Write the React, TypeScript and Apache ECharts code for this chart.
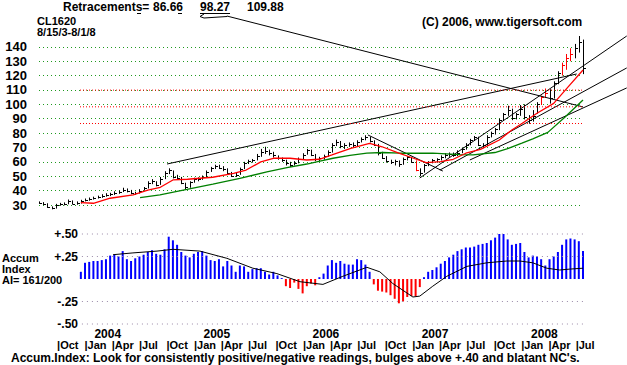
import React, { useEffect, useRef } from "react";
import * as echarts from "echarts";

// ---- data (weekly axis: weeks since 2003-08-15, one bar every 2 weeks) ----
const retracements = [86.66, 98.27, 109.88];
// [high, low, close]
const bars: [number, number, number][] = [
  [32.5, 30.8, 31.5], [32.0, 30.0, 31.0], [31.2, 28.0, 28.5], [29.0, 27.0, 27.8], [30.8, 27.5, 30.0],
  [31.5, 29.5, 30.5], [31.8, 29.8, 30.8], [33.8, 30.5, 33.0], [33.2, 30.5, 31.0], [32.5, 30.2, 31.5],
  [33.6, 31.0, 33.0], [34.5, 32.5, 33.5], [35.2, 33.0, 34.5], [35.8, 33.8, 35.0], [36.5, 34.5, 35.5],
  [37.5, 35.0, 36.5], [38.2, 35.8, 37.0], [38.5, 36.2, 37.5], [39.5, 37.0, 38.5], [40.0, 37.8, 39.0],
  [42.0, 39.0, 40.5], [41.5, 38.8, 40.0], [40.5, 37.5, 38.5], [39.2, 37.0, 38.0], [41.0, 38.0, 40.0],
  [42.5, 40.0, 41.5], [46.5, 41.5, 45.5], [48.0, 44.5, 46.5], [46.5, 43.0, 44.0], [49.5, 44.0, 48.0],
  [53.5, 48.0, 52.5], [55.5, 51.5, 54.5], [54.0, 48.5, 49.5], [51.0, 47.5, 49.0], [49.5, 44.5, 45.5],
  [45.5, 40.5, 42.5], [46.5, 42.0, 46.0], [49.0, 45.5, 48.0], [49.2, 46.5, 48.0], [50.5, 47.5, 49.5],
  [54.0, 49.5, 53.0], [56.5, 53.0, 55.5], [58.0, 55.0, 57.0], [58.0, 55.0, 56.0], [57.0, 53.5, 55.0],
  [55.5, 51.5, 52.5], [53.0, 49.5, 50.0], [52.5, 49.5, 51.0], [56.0, 51.0, 55.0], [60.0, 55.0, 59.0],
  [61.5, 58.5, 60.5], [62.0, 59.5, 61.0], [65.5, 61.0, 64.0], [69.0, 63.5, 67.0], [70.5, 65.5, 67.5],
  [68.5, 64.5, 66.0], [67.0, 63.0, 64.5], [64.5, 61.5, 62.5], [63.0, 60.0, 61.0], [61.5, 57.5, 59.5],
  [60.0, 56.5, 58.0], [60.5, 57.5, 59.5], [63.0, 59.0, 62.0], [66.0, 61.5, 65.0], [69.0, 65.0, 68.0],
  [68.5, 64.0, 65.0], [65.5, 60.5, 62.0], [63.5, 60.5, 62.5], [65.0, 61.5, 64.0], [68.0, 63.5, 67.0],
  [73.0, 66.5, 72.0], [75.5, 71.0, 74.0], [74.5, 69.5, 71.0], [73.0, 69.0, 72.0], [73.5, 70.5, 72.5],
  [73.5, 70.0, 71.5], [75.0, 70.5, 74.0], [77.0, 73.5, 76.0], [78.5, 75.0, 77.0], [77.5, 73.5, 74.5],
  [75.0, 71.0, 72.0], [72.5, 64.5, 66.0], [67.0, 62.0, 63.0], [64.0, 59.5, 60.5], [61.5, 58.5, 60.0],
  [61.5, 57.5, 60.5], [61.0, 56.5, 58.5], [63.0, 58.0, 62.0], [64.0, 61.0, 63.5], [63.5, 59.5, 60.0],
  [61.0, 53.5, 54.5], [55.5, 50.0, 52.0], [58.5, 52.5, 58.0], [60.5, 57.0, 60.0], [62.0, 59.0, 61.5],
  [62.5, 59.5, 62.0], [64.5, 61.0, 63.5], [66.0, 62.5, 64.5], [66.5, 63.5, 65.5], [66.5, 63.5, 65.0],
  [68.0, 64.0, 66.5], [70.0, 66.0, 69.0], [73.0, 68.5, 72.0], [76.0, 71.5, 75.0], [78.0, 74.5, 77.0],
  [77.5, 71.0, 72.0], [73.0, 69.5, 71.5], [78.5, 71.0, 77.5], [81.0, 77.0, 80.0], [83.5, 79.0, 82.5],
  [90.0, 82.0, 89.0], [94.0, 88.5, 93.0], [99.0, 92.0, 96.0], [97.0, 89.0, 90.5], [94.0, 89.5, 93.0],
  [99.5, 92.0, 96.5], [100.0, 89.5, 91.0], [92.5, 86.5, 89.0], [96.0, 88.0, 92.0], [101.5, 93.5, 100.0],
  [106.0, 99.5, 105.0], [111.0, 104.5, 108.0], [110.5, 100.5, 104.5], [116.0, 104.0, 115.0], [123.0, 114.0, 122.0],
  [129.0, 120.0, 127.0], [135.0, 124.0, 132.0], [139.0, 130.0, 135.0], [142.0, 132.0, 139.0], [147.5, 136.0, 143.0],
  [145.0, 121.0, 125.0],
];
const redBars = [90, 120, 121, 125, 126, 127];

// moving averages: [week, value]
const redMA: [number, number][] = [
  [20, 31.6], [26, 31.2], [34, 34.7], [45, 37], [52, 40.4], [58, 42.3], [64, 47.4], [71, 47.9], [83, 49.3],
  [93, 52], [99, 54.3], [106, 60], [112, 62.5], [120, 62.5], [128, 61.3], [134, 61.8], [140, 64.8], [149, 69.4],
  [158, 72.9], [164, 70.5], [172, 66], [179, 62.5], [185, 59.4], [192, 60.1], [198, 61.8], [204, 66], [211, 68.7],
  [220, 75.2], [226, 82.2], [231, 86.8], [238, 93.8], [246, 100.7], [253, 112.3], [260, 123.9],
];
const greenMA: [number, number][] = [
  [48.3, 35.1], [57.8, 37], [70.7, 40.8], [83.1, 44.5], [96, 48.5], [108.9, 53], [118.5, 56], [128, 58.5],
  [134.3, 60.5], [140.5, 62.5], [148.6, 64.5], [156.7, 66], [164.4, 66.5], [172.5, 66], [188.2, 66], [201.1, 65],
  [207.4, 64.8], [217.9, 66.5], [223.6, 69], [230.8, 73], [236, 76], [243.2, 80.5], [251.3, 91], [260, 103],
];
// trend lines: [week1, price1, week2, price2]
const trendLines: [number, number, number, number][] = [
  [61.2, 58.5, 257, 121.1],
  [89.8, 161.4, 260, 98.2],
  [157.2, 78.7, 193, 53.6],
  [182, 48.8, 280.9, 147.5],
  [191.6, 54.3, 280.9, 125.3],
  [205.9, 61.3, 280.9, 111.4],
];

// Accumulation index (one value per bar, null before it starts)
const aiValues: (number | null)[] = [
  null, null, null, null, null, null, null, null, null, null,
  0.08, 0.18, 0.19, 0.20, 0.20, 0.21, 0.22, 0.26, 0.27, 0.25,
  0.31, 0.22, 0.20, 0.23, 0.25, 0.27, 0.30, 0.32, 0.28, 0.27,
  0.33, 0.47, 0.43, 0.38, 0.30, 0.26, 0.24, 0.28, 0.30, 0.31,
  0.26, 0.21, 0.20, 0.22, 0.14, 0.20, 0.15, 0.08, 0.15, 0.14,
  0.08, 0.11, 0.12, 0.12, 0.08, 0.05, 0.08, 0.04, 0.01, -0.08,
  -0.10, -0.04, -0.11, -0.16, -0.08, -0.05, -0.07, 0.02, 0.06, 0.15,
  0.21, 0.18, 0.20, 0.17, 0.16, 0.16, 0.22, 0.21, 0.16, 0.08,
  -0.06, -0.13, -0.14, -0.15, -0.18, -0.22, -0.27, -0.25, -0.20, -0.19,
  -0.19, -0.09, 0.02, 0.08, 0.10, 0.13, 0.17, 0.20, 0.24, 0.27,
  0.31, 0.33, 0.35, 0.35, 0.36, 0.38, 0.39, 0.40, 0.43, 0.46,
  0.50, 0.52, 0.44, 0.38, 0.39, 0.40, 0.30, 0.24, 0.26, 0.25,
  0.22, 0.15, 0.22, 0.25, 0.30, 0.38, 0.44, 0.45, 0.44, 0.42,
  0.31,
];
const aiMA: [number, number][] = [
  [35.4, 0.27], [44.9, 0.29], [56.4, 0.31], [64, 0.33], [76.9, 0.31], [89.8, 0.23], [102.2, 0.12], [113.7, 0.06],
  [124.7, -0.03], [135.7, -0.06], [145.2, 0.03], [156.7, 0.13], [162.9, 0.08], [169.1, -0.05], [178.7, -0.2],
  [182, -0.19], [188.2, -0.08], [194.9, 0.03], [204.5, 0.14], [214, 0.18], [223.6, 0.2], [229.8, 0.2],
  [236, 0.18], [242.7, 0.12], [248.9, 0.1], [253.7, 0.11], [260, 0.12],
];
const aiGridValues = [0.5, 0.25, -0.25, -0.5];

const quarterDates = [
  "2003-10-01", "2004-01-01", "2004-04-01", "2004-07-01", "2004-10-01", "2005-01-01", "2005-04-01",
  "2005-07-01", "2005-10-01", "2006-01-01", "2006-04-01", "2006-07-01", "2006-10-01", "2007-01-01",
  "2007-04-01", "2007-07-01", "2007-10-01", "2008-01-01", "2008-04-01", "2008-07-01",
];
const quarterNames = ["Oct", "Jan", "Apr", "Jul", "Oct", "Jan", "Apr", "Jul", "Oct", "Jan", "Apr", "Jul", "Oct", "Jan", "Apr", "Jul", "Oct", "Jan", "Apr", "Jul"];
const yearNames = ["2004", "2005", "2006", "2007", "2008"];
const yearLabelDates = ["2004-04-01", "2005-04-01", "2006-04-01", "2007-04-01", "2008-04-01"];

const START = Date.UTC(2003, 7, 15);
const toWeek = (d: string) => (Date.parse(d + "T00:00:00Z") - START) / (7 * 86400000);
const FONT = "'Liberation Sans', Arial, sans-serif";

function txt(x: number, y: number, text: string, size = 12, lh = 10) {
  return {
    type: "text", x, y,
    style: { text, font: `bold ${size}px ${FONT}`, fill: "#000", lineHeight: lh, verticalAlign: "middle", textVerticalAlign: "middle" },
  };
}

export default function App() {
  const ref = useRef<HTMLDivElement>(null);
  useEffect(() => {
    document.body.style.margin = "0";
    const chart = echarts.init(ref.current!, null, { renderer: "svg" });
    const qVals = quarterDates.map(toWeek);
    const yVals = yearLabelDates.map(toWeek);
    const barData = bars.map((b, i) => [i * 2, b[0], b[1], b[2]]);
    const aiData = aiValues.map((v, i) => [i * 2, v]);
    const priceGridStart = 19.6;
    const aiGridStart = 20.5;

    const simpleLine = (data: any[], color: string, width: number, type: any, xi: number, yi: number) => ({
      type: "line", xAxisIndex: xi, yAxisIndex: yi, data, symbol: "none", clip: false, silent: true,
      lineStyle: { width, color, type }, itemStyle: { color },
    });
    const hiddenAxis = { show: false, axisLine: { show: false, onZero: false } };
    const labelAxis = (gridIndex: number, vals: number[], names: string[], align: string, pad: number, size: number) => ({
      gridIndex, type: "value", min: 0, max: 260, position: "bottom",
      axisLine: { show: false, onZero: false }, axisTick: { show: false }, splitLine: { show: false },
      axisLabel: {
        customValues: vals,
        formatter: (v: number) => {
          const k = vals.findIndex((q) => Math.abs(q - v) < 1e-6);
          return k >= 0 ? names[k] : "";
        },
        align, verticalAlign: "middle", margin: 0, padding: [0, 0, 0, pad], lineHeight: 11,
        color: "#000", fontFamily: FONT, fontWeight: "bold", fontSize: size,
      },
    });

    const option: any = {
      animation: false,
      backgroundColor: "#fff",
      grid: [
        { left: 39, right: 44, top: 46.8, height: 158.2 },
        { left: 39, right: 44, top: 234, height: 90 },
        { left: 39, right: 44, top: 333, height: 1 },
        { left: 39, right: 44, top: 344, height: 1 },
      ],
      xAxis: [
        { gridIndex: 0, type: "value", min: 0, max: 260, ...hiddenAxis },
        { gridIndex: 1, type: "value", min: 0, max: 260, ...hiddenAxis },
        labelAxis(2, yVals, yearNames, "center", 0, 12),
        labelAxis(3, qVals, quarterNames.map((n) => "|" + n), "left", 4, 11),
      ],
      yAxis: [
        {
          gridIndex: 0, type: "value", min: 30, max: 140, interval: 10,
          axisLine: { show: false, onZero: false }, axisTick: { show: false },
          axisLabel: { margin: 12, color: "#000", fontFamily: FONT, fontWeight: "bold", fontSize: 13 },
          splitLine: { show: true, lineStyle: { color: "#1f9a1f", type: [1, 3], width: 1 } },
        },
        {
          gridIndex: 1, type: "value", min: -0.5, max: 0.5, interval: 0.25, offset: -43,
          axisLine: { show: false, onZero: false }, axisTick: { show: false }, splitLine: { show: false },
          axisLabel: {
            margin: 4, color: "#000", fontFamily: FONT, fontWeight: "bold", fontSize: 12,
            formatter: (v: number) => (Math.abs(v) < 1e-9 ? "" : (v > 0 ? "+" : "-") + Math.abs(v).toFixed(2).replace(/^0/, "")),
          },
        },
        { gridIndex: 2, type: "value", min: 0, max: 1, ...hiddenAxis },
        { gridIndex: 3, type: "value", min: 0, max: 1, ...hiddenAxis },
      ],
      series: [
        ...aiGridValues.map((v) => simpleLine([[aiGridStart, v], [260, v]], "#9a8aa8", 1, [1, 4], 1, 1)),
        ...retracements.map((v) => simpleLine([[priceGridStart, v], [260, v]], "#ff0000", 1, [1, 2], 0, 0)),
        {
          type: "bar", xAxisIndex: 1, yAxisIndex: 1, barWidth: 2, silent: true,
          data: aiData.map((d) => ({ value: d, itemStyle: { color: (d[1] as number) < 0 ? "#ff0000" : "#0000ff" } })),
        },
        simpleLine(aiMA, "#000", 1, "solid", 1, 1),
        simpleLine(greenMA, "#008000", 1.3, "solid", 0, 0),
        simpleLine(redMA, "#ff0000", 1.3, "solid", 0, 0),
        {
          type: "custom", xAxisIndex: 0, yAxisIndex: 0, clip: false, silent: true,
          encode: { x: 0, y: [1, 2, 3] },
          data: barData,
          renderItem: (params: any, api: any) => {
            const x = api.value(0);
            const top = api.coord([x, api.value(1)]);
            const bot = api.coord([x, api.value(2)]);
            const cl = api.coord([x, api.value(3)]);
            const color = redBars.indexOf(params.dataIndex) >= 0 ? "#ff0000" : "#000";
            const px = Math.round(top[0]) + 0.5;
            const cy = Math.round(cl[1]) + 0.5;
            return {
              type: "group",
              children: [
                { type: "line", shape: { x1: px, y1: top[1], x2: px, y2: bot[1] }, style: { stroke: color, lineWidth: 1 } },
                { type: "line", shape: { x1: px, y1: cy, x2: px + 2.5, y2: cy }, style: { stroke: color, lineWidth: 1 } },
              ],
            };
          },
        },
        {
          type: "custom", xAxisIndex: 0, yAxisIndex: 0, clip: false, silent: true,
          encode: { x: [0, 2], y: [1, 3] },
          data: trendLines,
          renderItem: (params: any, api: any) => {
            const a = api.coord([api.value(0), api.value(1)]);
            const b = api.coord([api.value(2), api.value(3)]);
            return { type: "line", shape: { x1: a[0], y1: a[1], x2: b[0], y2: b[1] }, style: { stroke: "#000", lineWidth: 1 } };
          },
        },
        // empty series so that the label grids are used
        { type: "line", xAxisIndex: 2, yAxisIndex: 2, data: [], silent: true },
        { type: "line", xAxisIndex: 3, yAxisIndex: 3, data: [], silent: true },
      ],
      graphic: [
        txt(63, 7, "Retracements="),
        txt(153, 7, retracements[0].toFixed(2)),
        txt(200, 7, retracements[1].toFixed(2)),
        txt(247, 7, retracements[2].toFixed(2)),
        { type: "line", shape: { x1: 137, y1: 13.5, x2: 141, y2: 13.5 }, style: { stroke: "#000", lineWidth: 1 } },
        { type: "line", shape: { x1: 178, y1: 13.5, x2: 182, y2: 13.5 }, style: { stroke: "#000", lineWidth: 1 } },
        { type: "line", shape: { x1: 200, y1: 13.5, x2: 230, y2: 13.5 }, style: { stroke: "#000", lineWidth: 1 } },
        { type: "polyline", shape: { points: [[204, 14], [200, 16.5], [204, 18], [227, 16.5]] }, style: { stroke: "#000", fill: "none", lineWidth: 1 } },
        txt(37, 20.5, "CL1620", 11, 11),
        txt(37, 31.5, "8/15/3-8/1/8", 11, 11),
        txt(422, 22, "(C) 2006, www.tigersoft.com"),
        txt(2, 258, "Accum", 11, 11),
        txt(2, 269, "Index", 11, 11),
        txt(2, 280, "AI= 161/200", 11, 11),
        txt(11, 357.5, "Accum.Index: Look for consistently positive/negative readings, bulges above +.40 and blatant NC's.", 12, 11),
      ],
    };
    chart.setOption(option);
    return () => chart.dispose();
  }, []);
  return <div ref={ref} style={{ width: 627, height: 365 }} />;
}
